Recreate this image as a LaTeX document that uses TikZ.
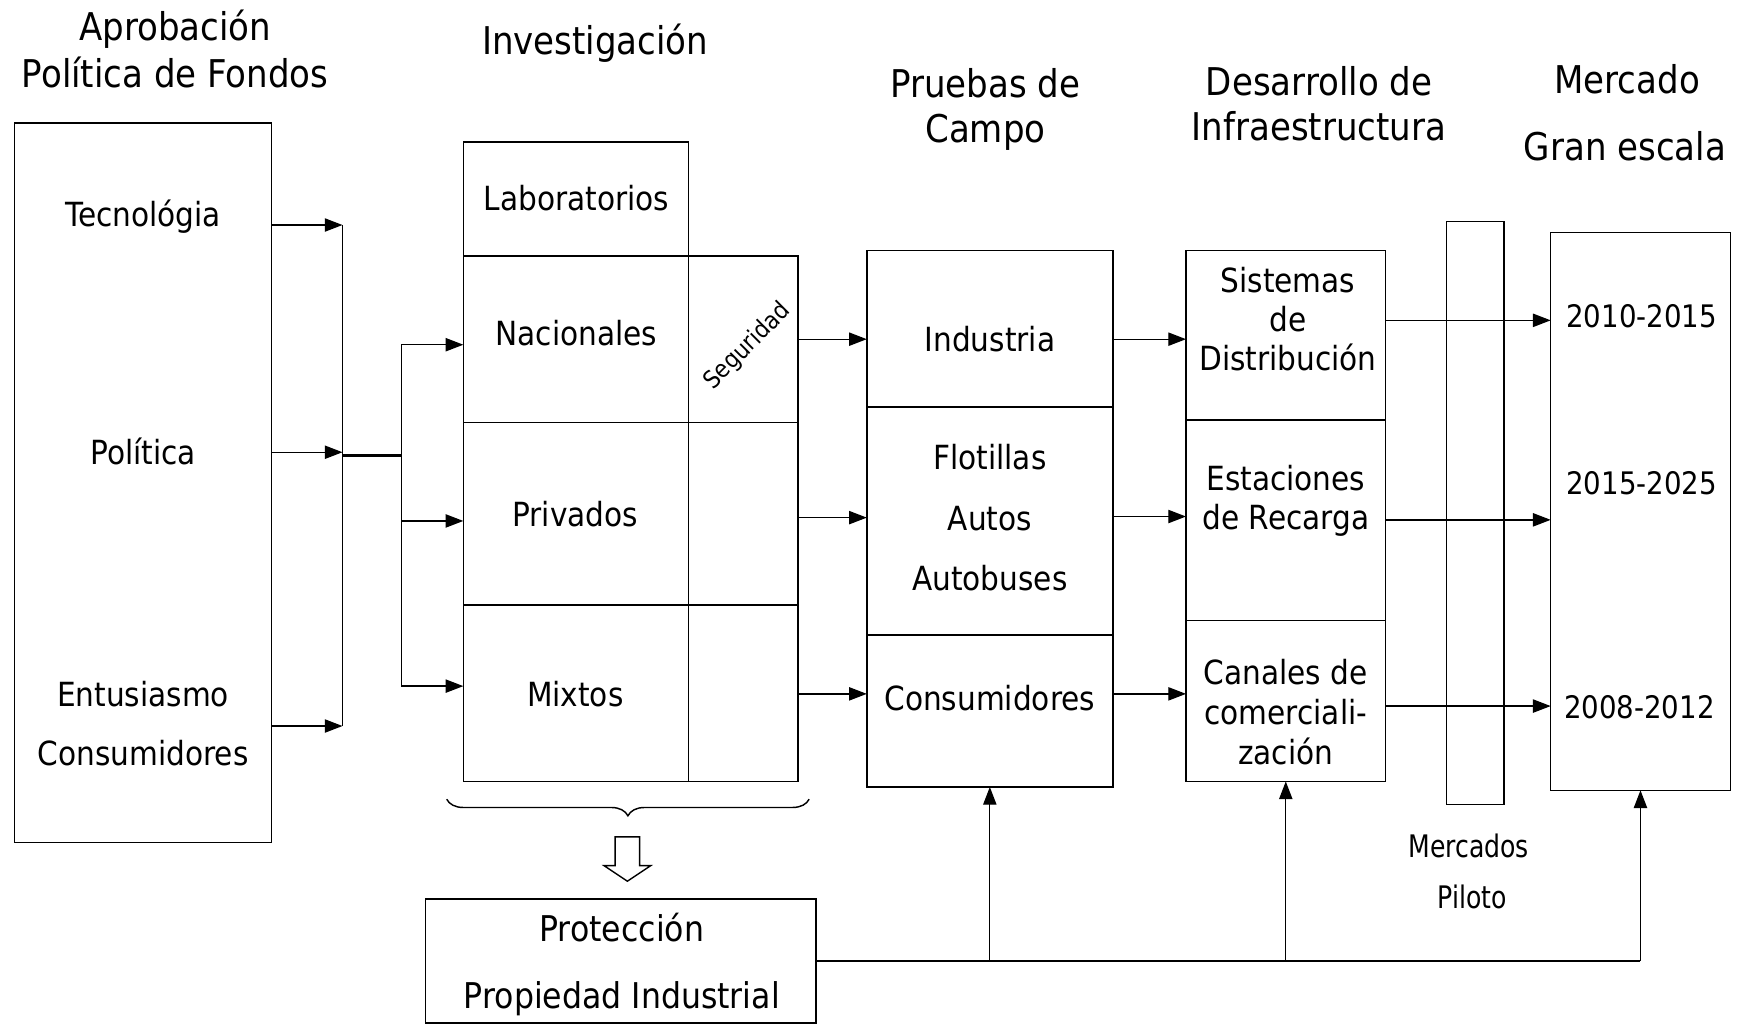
\documentclass[tikz,border=0pt]{standalone}
\usepackage{fontspec}
\setmainfont{DejaVu Sans}[FakeStretch=0.89]
\newfontfamily\narrowfont{DejaVu Sans}[FakeStretch=0.81]
\usetikzlibrary{arrows.meta,decorations.pathreplacing}
\begin{document}
\begin{tikzpicture}[x=1pt,y=-1pt,
 box/.style={draw,line width=1.3pt,inner sep=0pt,outer sep=0pt},
 txt/.style={inner sep=0pt,text height=21.9pt,text depth=0pt,font=\fontsize{30}{36}\selectfont},
 ptxt/.style={inner sep=0pt,text height=23.3pt,text depth=0pt,font=\fontsize{32}{38}\selectfont},
 hdr/.style={inner sep=0pt,text height=25.2pt,text depth=0pt,font=\fontsize{34.5}{40}\selectfont},
 yr/.style={inner sep=0pt,text height=20.4pt,text depth=0pt,font=\fontsize{28}{34}\selectfont},
 mp/.style={inner sep=0pt,text height=20.4pt,text depth=0pt,font=\narrowfont\fontsize{28}{34}\selectfont},
 arr/.style={line width=1.2pt,-{Triangle[length=16pt,width=12pt]}},
 ln/.style={line width=1.2pt},
]
\useasboundingbox (0,0) rectangle (1568,925);

% headers
\node[hdr] (h1a) at (158,23.5) {Aprobación};
\node[hdr] (h1b) at (158,66.5) {Política de Fondos};
\node[hdr] (h2) at (537,36.5) {Investigación};
\node[hdr] (h3a) at (889,75) {Pruebas de};
\node[hdr] (h3b) at (889,116) {Campo};
\node[hdr] (h4a) at (1190,74) {Desarrollo de};
\node[hdr] (h4b) at (1190,114) {Infraestructura};
\node[hdr] (h5a) at (1468,72) {Mercado};
\node[hdr] (h5b) at (1466,132) {Gran escala};

% boxes
\node[box,minimum width=232pt,minimum height=649pt] (apr) at (129,435.5) {};
\node[box,minimum width=203pt,minimum height=103pt] (lab) at (519.5,179.5) {};
\node[box,minimum width=203pt,minimum height=150pt] (nac) at (519.5,306) {};
\node[box,minimum width=99pt,minimum height=150pt] (nacS) at (670.5,306) {};
\node[box,minimum width=203pt,minimum height=165pt] (pri) at (519.5,463.5) {};
\node[box,minimum width=99pt,minimum height=165pt] (priS) at (670.5,463.5) {};
\node[box,minimum width=203pt,minimum height=159pt] (mix) at (519.5,625.5) {};
\node[box,minimum width=99pt,minimum height=159pt] (mixS) at (670.5,625.5) {};
\node[box,minimum width=222pt,minimum height=141pt] (ind) at (893,296.5) {};
\node[box,minimum width=222pt,minimum height=206pt] (flo) at (893,470) {};
\node[box,minimum width=222pt,minimum height=137pt] (con) at (893,641.5) {};
\node[box,minimum width=180pt,minimum height=153pt] (sis) at (1160,302.5) {};
\node[box,minimum width=180pt,minimum height=181pt] (est) at (1160,469.5) {};
\node[box,minimum width=180pt,minimum height=145pt] (can) at (1160,632.5) {};
\node[box,minimum width=52pt,minimum height=526pt] (pil) at (1331,463) {};
\node[box,minimum width=162pt,minimum height=503pt] (gran) at (1480,461.5) {};
\node[box,minimum width=352pt,minimum height=112pt] (pro) at (560,867) {};

% texts
\node[txt] (t1) at (129,193) {Tecnológia};
\node[txt] (t2) at (129,408) {Política};
\node[txt] (t3) at (129,626) {Entusiasmo};
\node[txt] (t4) at (129,680) {Consumidores};
\node[txt] (t5) at (520,179) {Laboratorios};
\node[txt] (t6) at (520,301) {Nacionales};
\node[txt] (t7) at (519,464) {Privados};
\node[txt] (t8) at (519,626) {Mixtos};
\node[rotate=45,inner sep=0pt,text height=16pt,text depth=0pt,font=\fontsize{22}{26}\selectfont] (seg) at (673,311) {Seguridad};
\node[txt] (t9) at (893,306) {Industria};
\node[txt] (t10) at (893,413) {Flotillas};
\node[txt] (t11) at (893,468) {Autos};
\node[txt] (t12) at (893,522) {Autobuses};
\node[txt] (t13) at (893,630) {Consumidores};
\node[txt] (t14) at (1162,253) {Sistemas};
\node[txt] (t15) at (1162,288) {de};
\node[txt] (t16) at (1162,323) {Distribución};
\node[txt] (t17) at (1160,432) {Estaciones};
\node[txt] (t18) at (1160,467) {de Recarga};
\node[txt] (t19) at (1160,607) {Canales de};
\node[txt] (t20) at (1160,643) {comerciali-};
\node[txt] (t21) at (1160,679) {zación};
\node[yr] (y1) at (1481,285) {2010-2015};
\node[yr] (y2) at (1481,436) {2015-2025};
\node[yr] (y3) at (1479,638) {2008-2012};
\node[mp] (m1) at (1325,763) {Mercados};
\node[mp] (m2) at (1328,809) {Piloto};
\node[ptxt] (p1) at (561,838) {Protección};
\node[ptxt] (p2) at (561,898) {Propiedad Industrial};

% left connectors
\coordinate (ja) at (309,411);
\coordinate (jb) at (362,411);
\draw[arr] (apr.east |- 0,203) -- (ja |- 0,203);
\draw[arr] (apr.east |- 0,408) -- (ja |- 0,408);
\draw[arr] (apr.east |- 0,655) -- (ja |- 0,655);
\draw[ln] (ja |- 0,203) -- (ja |- 0,655);
\draw[line width=3pt] (ja) -- (jb);
\draw[ln] (jb |- 0,311) -- (jb |- 0,619);
\draw[arr] (jb |- 0,311) -- (nac.west |- 0,311);
\draw[arr] (jb |- 0,470) -- (pri.west |- 0,470);
\draw[arr] (jb |- 0,619) -- (mix.west |- 0,619);

% investigacion -> pruebas
\draw[arr] (nacS.east |- 0,306) -- (ind.west |- 0,306);
\draw[arr] (priS.east |- 0,467) -- (flo.west |- 0,467);
\draw[arr] (mixS.east |- 0,626) -- (con.west |- 0,626);
% pruebas -> desarrollo
\draw[arr] (ind.east |- 0,306) -- (sis.west |- 0,306);
\draw[arr] (flo.east |- 0,466) -- (est.west |- 0,466);
\draw[arr] (con.east |- 0,626) -- (can.west |- 0,626);
% desarrollo -> mercado
\draw[arr] (sis.east |- 0,289) -- (gran.west |- 0,289);
\draw[arr] (est.east |- 0,469) -- (gran.west |- 0,469);
\draw[arr] (can.east |- 0,637) -- (gran.west |- 0,637);

% brace and hollow arrow
\coordinate (brL) at (403,721);
\coordinate (brR) at (730,721);
\draw[line width=1.3pt,decorate,decoration={brace,mirror,amplitude=15pt}] (brL) -- (brR);
\draw[line width=1.3pt] (555,755) -- (577,755) -- (577,781) -- (587,781) -- (566,795) -- (545,781) -- (555,781) -- cycle;

% bottom connector
\draw[ln] (pro.east) -- (pro.east -| gran.south);
\draw[arr] (pro.east -| con.south) -- (con.south);
\draw[arr] (pro.east -| can.south) -- (can.south);
\draw[arr] (pro.east -| gran.south) -- (gran.south);
\end{tikzpicture}
\end{document}
